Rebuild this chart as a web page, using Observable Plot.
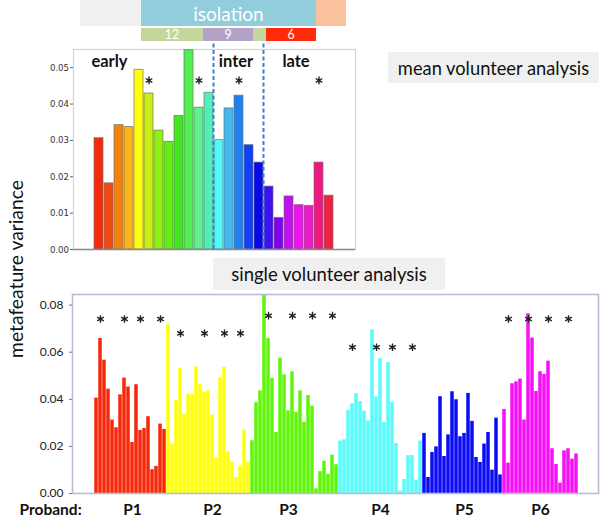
<!DOCTYPE html>
<html><head><meta charset="utf-8">
<script src="https://cdn.jsdelivr.net/npm/d3@7"></script>
<script src="https://cdn.jsdelivr.net/npm/@observablehq/plot@0.6"></script>
<style>
body{margin:0;background:#fff;font-family:Lato,"Open Sans",sans-serif;}
#root{position:relative;width:600px;height:517px;overflow:hidden;background:#fff;}
.seg{position:absolute;display:flex;align-items:center;justify-content:center;color:#fff;z-index:2;}
.title{position:absolute;background:#f0f0f0;color:#111;display:flex;align-items:center;z-index:2;}
#top,#bottom{position:absolute;left:0;z-index:1;}
#top{top:0;} #bottom{top:280px;}
#ylab{position:absolute;left:15px;top:269px;transform:translate(-50%,-50%) rotate(-90deg);white-space:nowrap;font-size:19.3px;color:#111;z-index:2;}
</style></head><body>
<div id="root">
  <div class="seg" style="left:80px;top:0;width:61px;height:26px;background:#f0f0f0;"></div>
  <div class="seg" style="left:141px;top:0;width:175px;height:26px;background:#92cddc;font-size:19px;">isolation</div>
  <div class="seg" style="left:316px;top:0;width:30px;height:26px;background:#f9c29c;"></div>
  <div class="seg" style="left:141px;top:28px;width:62px;height:13px;background:#c3d69b;font-size:12.5px;">12</div>
  <div class="seg" style="left:203px;top:28px;width:50px;height:13px;background:#b3a2c7;font-size:12.5px;">9</div>
  <div class="seg" style="left:253px;top:28px;width:13px;height:13px;background:#c3d69b;"></div>
  <div class="seg" style="left:266px;top:28px;width:50px;height:13px;background:#ff2a0a;font-size:12.5px;">6</div>
  <div class="title" style="left:388px;top:52px;width:211px;height:31px;justify-content:center;font-size:18.3px;">mean volunteer analysis</div>
  <div class="title" style="left:213px;top:258px;width:232px;height:32px;justify-content:center;font-size:18.5px;">single volunteer analysis</div>
  <div id="ylab">metafeature variance</div>
  <div id="top"></div>
  <div id="bottom"></div>
</div>
<script>
// ---- mean volunteer analysis (top) ----
const topValues = [0.0306, 0.0182, 0.0342, 0.0337, 0.0494, 0.0429, 0.0327, 0.0296, 0.0367, 0.0548, 0.0390, 0.0431,
                   0.0301, 0.0388, 0.0423, 0.0287, 0.0239,
                   0.0173, 0.0087, 0.0146, 0.0122, 0.0120, 0.0239, 0.0148];
const topColors = ["#f52a0a", "#f04a10", "#f58210", "#f8b418", "#ffff10", "#c8f010", "#90f010", "#60f010", "#40e820", "#50f050", "#60f090", "#50f0b8",
                   "#50f8f8", "#40b8f0", "#2080f0", "#1040f8", "#0808e8",
                   "#4010f0", "#8000f0", "#c010f0", "#f010f0", "#f018c8", "#f01880", "#f02040"];
const topTicks = [0, 0.01, 0.02, 0.03, 0.04, 0.05];
const topStars = [6, 11, 15, 23];
const topStarLevel = 0.0465;
const phaseLabels = ["early", "inter", "late"];
const phaseAt = [1, 15, 21];
const phaseLevel = 0.0501;
const phaseBoundaries = [12, 17];

// ---- single volunteer analysis (bottom) ----
const probands = ["P1", "P2", "P3", "P4", "P5", "P6"];
const probandColors = ["#f5280a", "#ffff0a", "#60f50a", "#5cfafa", "#0a0af5", "#f510f5"];
const p1 = [0.0405, 0.0658, 0.0566, 0.0443, 0.0312, 0.0279, 0.0419, 0.0490, 0.0452, 0.0217, 0.0462, 0.0268, 0.0276, 0.0326, 0.0101, 0.0115, 0.0295, 0.0272];
const p2 = [0.0719, 0.0210, 0.0394, 0.0532, 0.0337, 0.0422, 0.0420, 0.0538, 0.0463, 0.0429, 0.0436, 0.0334, 0.0153, 0.0491, 0.0535, 0.0177, 0.0133, 0.0068, 0.0115, 0.0269, 0.0133];
const p3 = [0.0224, 0.0385, 0.0436, 0.0845, 0.0658, 0.0489, 0.0259, 0.0575, 0.0504, 0.0351, 0.0517, 0.0345, 0.0436, 0.0303, 0.0416, 0.0371, 0.0020, 0.0093, 0.0137, 0.0081, 0.0163, 0.0122];
const p4 = [0.0223, 0.0228, 0.0353, 0.0381, 0.0424, 0.0390, 0.0350, 0.0308, 0.0695, 0.0410, 0.0573, 0.0302, 0.0556, 0.0387, 0.0212, 0.0010, 0.0059, 0.0161, 0.0161, 0.0057, 0.0223];
const p5 = [0.0255, 0.0068, 0.0174, 0.0198, 0.0411, 0.0157, 0.0249, 0.0432, 0.0398, 0.0241, 0.0255, 0.0425, 0.0306, 0.0153, 0.0132, 0.0210, 0.0259, 0.0099, 0.0320, 0.0079];
const p6 = [0.0357, 0.0129, 0.0466, 0.0474, 0.0486, 0.0312, 0.0763, 0.0660, 0.0433, 0.0517, 0.0506, 0.0562, 0.0190, 0.0123, 0.0044, 0.0181, 0.0190, 0.0146, 0.0168];
const probandStars = [[2, 8, 12, 17], [4, 10, 15, 19], [5, 11, 16, 21], [4, 10, 14, 19], [], [2, 7, 12, 17]];
const starLevels = [0.0741, 0.0680, 0.0755, 0.0621, 0, 0.0741];
const labelAt = [10, 12, 10, 11, 11, 10];
const bottomTicks = [0, 0.02, 0.04, 0.06, 0.08];

// ---- top plot ----
const topData = topValues.map((v, i) => ({bar: i + 1, value: v, color: topColors[i]}));
const topKeys = topData.map(d => d.bar);
const topPlot = Plot.plot({
  width: 360, height: 262, marginLeft: 73, marginRight: 5, marginTop: 49, marginBottom: 13,
  style: {background: "transparent", overflow: "visible", fontFamily: "'Liberation Sans Narrow','DejaVu Sans Condensed','Liberation Sans',sans-serif"},
  x: {domain: topKeys, range: [82.1, 345.3], padding: 0.15, axis: null},
  y: {domain: [0, 0.055], axis: null},
  marks: [
    Plot.frame({stroke: "#d2d2d2", strokeWidth: 1.2}),
    Plot.barY(topData, {x: "bar", y: "value", fill: "color", stroke: "#6f6f6f", strokeWidth: 0.9, strokeOpacity: 0.75}),
    Plot.ruleY([0], {stroke: "#8a8a8a", strokeWidth: 1.6}),
    Plot.axisY({ticks: topTicks, tickFormat: d3.format(".2f"), label: null, tickSize: 3, tickPadding: 1.5, fontSize: 9.5, stroke: "#666", fill: "#333", line: true}),
    Plot.ruleX(phaseBoundaries, {x: d => d, y1: 0, y2: 0.0575, dx: 4.5, stroke: "#3f7fd0", strokeWidth: 2, strokeDasharray: "4,2.5"}),
    Plot.text(phaseLabels.slice(0, 1), {x: (d, i) => phaseAt[i], y: phaseLevel, text: d => d, textAnchor: "start", lineAnchor: "bottom", dx: -7.6, fontSize: 16.5, fontWeight: "bold", fontFamily: "Lato", fill: "#111"}),
    Plot.text(phaseLabels.slice(1), {x: (d, i) => phaseAt[i + 1], y: phaseLevel, text: d => d, textAnchor: "middle", lineAnchor: "bottom", dx: -3, fontSize: 16.5, fontWeight: "bold", fontFamily: "Lato", fill: "#111"}),
    Plot.dot(topStars, {x: d => d, y: topStarLevel, symbol: "asterisk", r: 3.6, stroke: "#222", strokeWidth: 1.4})
  ]
});
document.getElementById("top").appendChild(topPlot);

// ---- bottom plot ----
const series = [p1, p2, p3, p4, p5, p6];
const bottomData = series.flatMap((vals, g) => vals.map((v, i) => ({key: `${probands[g]}-${i + 1}`, proband: probands[g], value: v})));
const bottomKeys = bottomData.map(d => d.key);
const starData = probandStars.flatMap((list, g) => list.map(k => ({key: `${probands[g]}-${k}`, level: starLevels[g]})));
const labelData = probands.map((p, g) => ({key: `${p}-${labelAt[g]}`, label: p}));
const bottomPlot = Plot.plot({
  width: 600, height: 237, marginLeft: 72, marginRight: 2, marginTop: 14, marginBottom: 24,
  style: {background: "transparent", overflow: "visible", fontFamily: "Lato,'Open Sans',sans-serif"},
  x: {domain: bottomKeys, range: [91.7, 581], padding: 0, axis: null},
  y: {domain: [0, 0.0845], axis: null},
  color: {domain: probands, range: probandColors},
  marks: [
    Plot.barY(bottomData, {x: "key", y: "value", fill: "proband", insetLeft: 0.25, insetRight: 0.25}),
    Plot.frame({stroke: "#b6bed0", strokeWidth: 1.6}),
    Plot.axisY({ticks: bottomTicks, tickFormat: d3.format(".2f"), label: null, tickSize: 3, tickPadding: 6, fontSize: 12, stroke: "#777", fill: "#222"}),
    Plot.dot(starData, {x: "key", y: "level", symbol: "asterisk", r: 3.6, stroke: "#222", strokeWidth: 1.4}),
    Plot.text(labelData, {x: "key", text: "label", frameAnchor: "bottom", lineAnchor: "bottom", dy: 21, fontSize: 15.5, fontWeight: "bold", fill: "#111"}),
    Plot.text(["Proband:"], {frameAnchor: "bottom-left", textAnchor: "start", lineAnchor: "bottom", dx: -53, dy: 21, fontSize: 15.5, fontWeight: "bold", fill: "#111"})
  ]
});
document.getElementById("bottom").appendChild(bottomPlot);
</script>
</body></html>
